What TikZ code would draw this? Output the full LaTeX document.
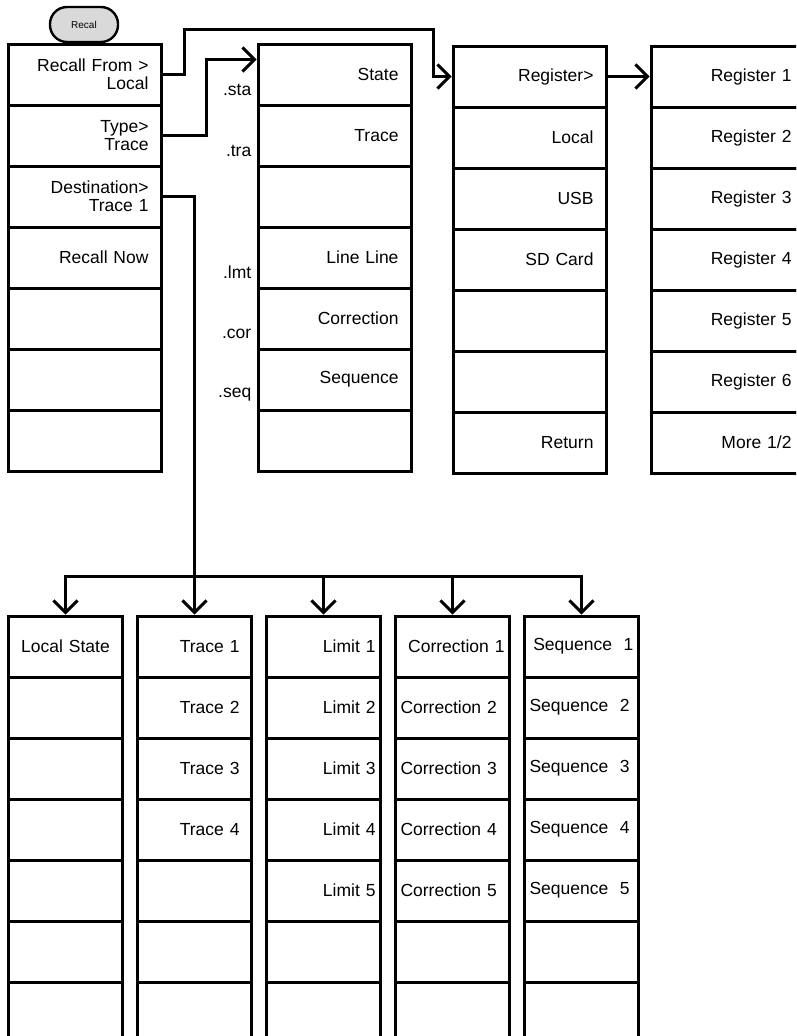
\documentclass[tikz,border=0pt]{standalone}
\usepackage{fontspec}
\setmainfont{Liberation Sans}
\usetikzlibrary{arrows.meta}
\begin{document}
\begin{tikzpicture}[x=1pt,y=-1pt,
  cell/.style={draw,line width=3pt,minimum height=61pt,inner xsep=0pt,inner ysep=0pt,font=\fontsize{17.5}{18}\selectfont},
  mcell/.style={cell,minimum width=153pt,text width=128pt,align=right},
  bcell/.style={cell,minimum width=114pt,text width=104pt,align=right},
  wire/.style={line width=3pt,line cap=rect},
  link/.style={line width=3pt,-{Straight Barb[length=12pt,width=24pt,line width=3pt]}},
  ext/.style={font=\fontsize{17.5}{18}\selectfont,anchor=east,inner sep=0pt}]
\useasboundingbox (0,0) rectangle (796,1036);
\clip (0,0) rectangle (796,1036);
\node[draw,line width=2.4pt,fill=gray!30,rounded corners=17pt,minimum width=68pt,minimum height=35pt,font=\fontsize{10}{11}\selectfont] (recal) at (84,24.5) {Recal};
\foreach \t [count=\i] in {{Recall From >\\Local},{Type>\\Trace},{Destination>\\Trace 1},Recall Now,{},{},{}}
  \node[mcell] (m1-\i) at (84.5,{13.5+61*\i}) {\t};
\foreach \t [count=\i] in {State,Trace,{},Line Line,Correction,Sequence,{}}
  \node[mcell] (m2-\i) at (334.5,{13.5+61*\i}) {\t};
\foreach \t [count=\i] in {Register>,Local,USB,SD Card,{},{},Return}
  \node[mcell] (m3-\i) at (529.5,{15.5+61*\i}) {\t};
\foreach \t [count=\i] in {Register 1,Register 2,Register 3,Register 4,Register 5,Register 6,More 1/2}
  \node[mcell] (m4-\i) at (727.5,{15.5+61*\i}) {\t};
\foreach \t/\r in {.sta/1,.tra/2,.lmt/4,.cor/5,.seq/6}
  \node[ext] (lab-\r) at ([xshift=-5pt,yshift=-15pt]m2-\r.west) {\t};
\foreach \t [count=\i] in {Local State,{},{},{},{},{},{}}
  \node[bcell,align=center] (b1-\i) at (65.5,{585.5+61*\i}) {\t};
\foreach \t [count=\i] in {Trace 1,Trace 2,Trace 3,Trace 4,{},{},{}}
  \node[bcell,text width=90pt] (b2-\i) at (194.5,{585.5+61*\i}) {\t};
\foreach \t [count=\i] in {Limit 1,Limit 2,Limit 3,Limit 4,Limit 5,{},{}}
  \node[bcell] (b3-\i) at (323.5,{585.5+61*\i}) {\t};
\node[bcell] (b4-1) at (452.5,646.5) {Correction 1};
\foreach \i in {2,...,5}
  \node[bcell,align=left] (b4-\i) at (452.5,{585.5+61*\i}) {Correction \i};
\node[bcell] (b5-1) at (581.5,646.5) {Sequence~~1};
\foreach \i in {2,...,5}
  \node[bcell,align=left] (b5-\i) at (581.5,{585.5+61*\i}) {Sequence~~\i};
\foreach \i in {6,7} {
  \node[bcell] (b4-\i) at (452.5,{585.5+61*\i}) {};
  \node[bcell] (b5-\i) at (581.5,{585.5+61*\i}) {};
}
\draw[link] (m1-1.east) -- ++(22,0) |- (433,29) |- (m3-1.west);
\draw[link] (m1-2.east) -- ++(44,0) |- ([yshift=15pt]m2-1.west);
\draw[link] (m3-1.east) -- (m4-1.west);
\coordinate (bus) at ([yshift=38pt]b2-1.north);
\draw[wire] (m1-3.east) -| (bus);
\draw[wire] ([yshift=38pt]b1-1.north) -- ([yshift=38pt]b5-1.north);
\foreach \c in {1,...,5}
  \draw[link] ([yshift=38pt]b\c-1.north) -- (b\c-1.north);
\end{tikzpicture}
\end{document}
